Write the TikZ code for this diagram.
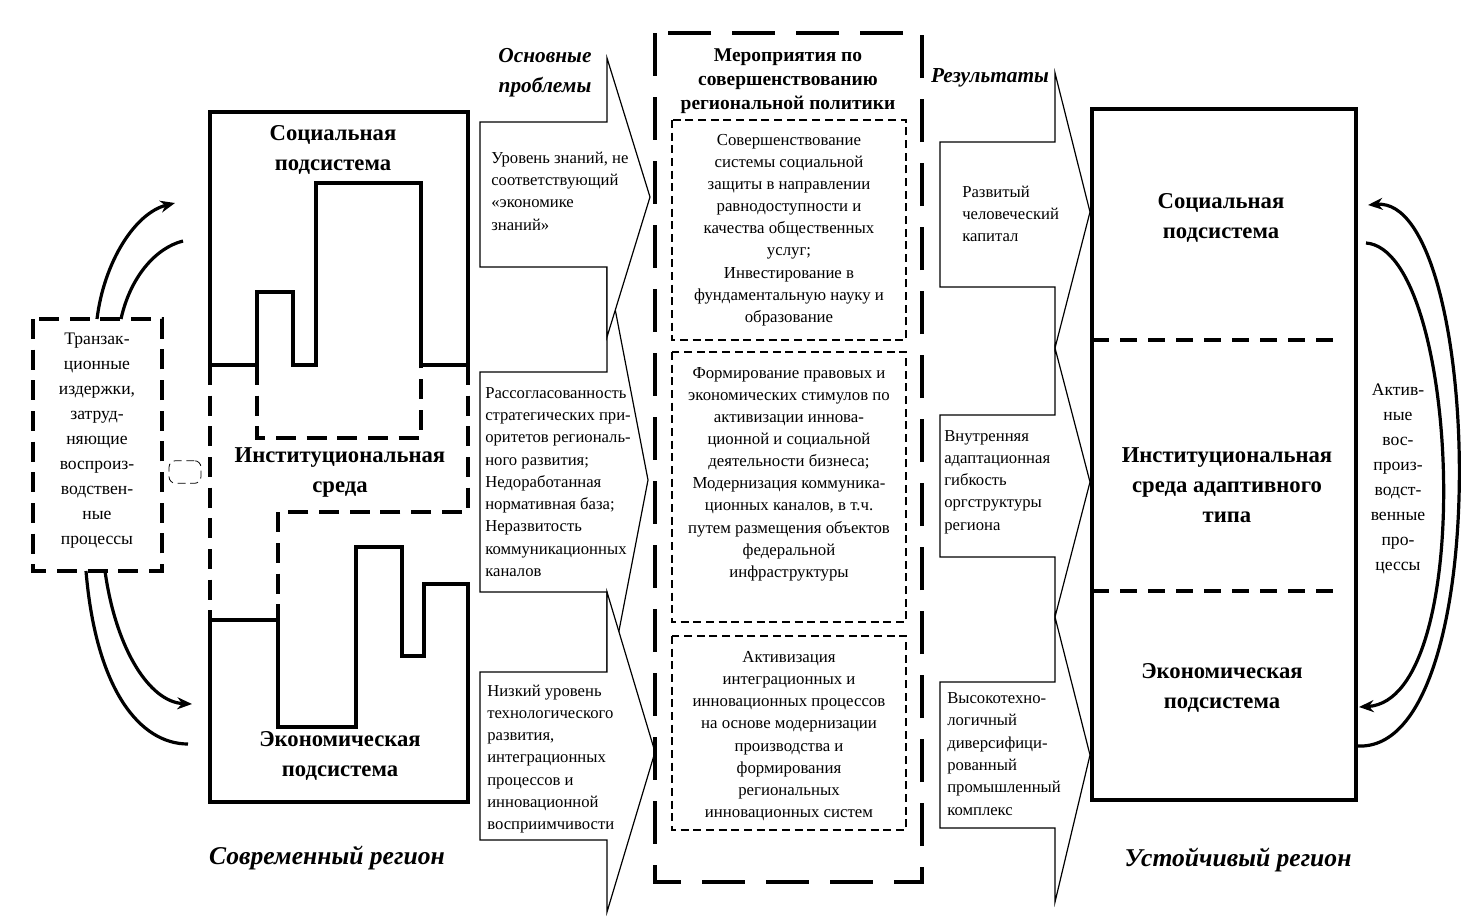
\documentclass[tikz,border=0pt]{standalone}
\usepackage{fontspec}
\setmainfont{Liberation Serif}
\usetikzlibrary{arrows.meta}
\begin{document}
\begin{tikzpicture}[x=0.75pt,y=-0.75pt,
  solidline/.style={line width=2.6pt, line join=miter},
  dashline/.style={line width=2.6pt, dash pattern=on 15pt off 8pt},
  sepdash/.style={line width=2.8pt, dash pattern=on 13pt off 8pt},
  bigdash/.style={line width=3pt, dash pattern=on 32pt off 16pt},
  thindash/.style={line width=0.9pt, dash pattern=on 6pt off 3.5pt},
  callout/.style={line width=0.9pt, fill=white, line join=miter},
  curvearrow/.style={line width=2.4pt, -{Stealth[length=11pt,width=9pt]}},
  curveplain/.style={line width=2.4pt},
  title/.style={font=\bfseries\fontsize{17}{22.5}\selectfont, align=center, inner sep=0pt},
  midtitle/.style={font=\bfseries\fontsize{14.6}{18}\selectfont, align=center, inner sep=0pt},
  italtitle/.style={font=\bfseries\itshape\fontsize{16}{22.5}\selectfont, align=center, inner sep=0pt},
  regionlabel/.style={font=\bfseries\itshape\fontsize{19.2}{22}\selectfont, inner sep=0pt},
  leftext/.style={font=\fontsize{12.5}{16.7}\selectfont, align=left, anchor=west, inner sep=0pt},
  centext/.style={font=\fontsize{12.6}{16.6}\selectfont, align=center, inner sep=0pt},
  sidetext/.style={font=\fontsize{13.2}{18.75}\selectfont, align=center, inner sep=0pt}
]
\useasboundingbox (0,0) rectangle (1484,918);

% ---------- Left region (current region) ----------
\draw[solidline] (210,365) -- (210,112) -- (468,112) -- (468,365) -- (421,365) -- (421,183)
  -- (316,183) -- (316,365) -- (293,365) -- (293,292) -- (257,292) -- (257,365) -- cycle;
\draw[dashline] (257,365) -- (257,438) -- (421,438) -- (421,365);
\draw[dashline] (210,365) -- (210,620);
\draw[dashline] (468,365) -- (468,512) -- (278,512) -- (278,620);
\draw[solidline] (210,620) -- (278,620) -- (278,727) -- (356,727) -- (356,547) -- (402,547)
  -- (402,656) -- (424,656) -- (424,584) -- (468,584) -- (468,802) -- (210,802) -- cycle;

\node[title] (soc1) at (333,150) {Социальная\\подсистема};
\node[title] (inst1) at (340,472) {Институциональная\\среда};
\node[title] (eco1) at (340,756) {Экономическая\\подсистема};
\node[regionlabel] (cur) at (327,858) {Современный регион};

% left dashed box
\draw[dashline] (33,319) rectangle (162,571);
\node[sidetext] (trans) at (97,441) {Транзак-\\ционные\\издержки,\\затруд-\\няющие\\воспроиз-\\водствен-\\ные\\процессы};
\node[draw, thindash, line width=0.6pt, rounded corners=5pt, minimum width=24pt, minimum height=17pt, inner sep=0pt] (link) at (185,472) {};

% left curved arrows
\coordinate (la1) at (97,319);   \coordinate (lb1) at (175,203);
\coordinate (la2) at (121,319);  \coordinate (lb2) at (183,241);
\coordinate (la3) at (86,571);   \coordinate (lb3) at (188,744);
\coordinate (la4) at (105,571);  \coordinate (lb4) at (192,704);
\draw[curvearrow] (la1) .. controls (104,262) and (135,213) .. (lb1);
\draw[curveplain] (la2) .. controls (130,278) and (155,248) .. (lb2);
\draw[curveplain] (la3) .. controls (96,690) and (140,744) .. (lb3);
\draw[curvearrow] (la4) .. controls (116,650) and (150,702) .. (lb4);

% ---------- Problems ----------
\node[italtitle] (osn) at (545,73) {Основные\\проблемы};
\draw[callout] (607,267) -- (607,372) -- (480,372) -- (480,592) -- (607,592) -- (607,693) -- (648,480) -- cycle;
\draw[callout] (607,58) -- (607,122) -- (480,122) -- (480,267) -- (607,267) -- (607,337) -- (650,197) -- cycle;
\draw[callout] (607,592) -- (607,672) -- (480,672) -- (480,840) -- (607,840) -- (607,912) -- (655,752) -- cycle;
\node[leftext] (p1) at (491,191) {Уровень знаний, не\\соответствующий\\«экономике\\знаний»};
\node[leftext] (p2) at (485,482) {Рассогласованность\\стратегических при-\\оритетов региональ-\\ного развития;\\Недоработанная\\нормативная база;\\Неразвитость\\коммуникационных\\каналов};
\node[leftext] (p3) at (487,759) {Низкий уровень\\технологического\\развития,\\интеграционных\\процессов и\\инновационной\\восприимчивости};

% ---------- Measures ----------
\draw[bigdash] (655,33) rectangle (922,882);
\node[midtitle] (mer) at (788,81) {Мероприятия по\\совершенствованию\\региональной политики};
\draw[thindash] (672,120) rectangle (906,340);
\draw[thindash] (672,352) rectangle (906,622);
\draw[thindash] (672,636) rectangle (906,830);
\node[centext] (m1) at (789,230) {Совершенствование\\системы социальной\\защиты в направлении\\равнодоступности и\\качества общественных\\услуг;\\Инвестирование в\\фундаментальную науку и\\образование};
\node[centext] (m2) at (789,474) {Формирование правовых и\\экономических стимулов по\\активизации иннова-\\ционной и социальной\\деятельности бизнеса;\\Модернизация коммуника-\\ционных каналов, в т.ч.\\путем размещения объектов\\федеральной\\инфраструктуры};
\node[centext] (m3) at (789,736) {Активизация\\интеграционных и\\инновационных процессов\\на основе модернизации\\производства и\\формирования\\региональных\\инновационных систем};

% ---------- Results ----------
\node[italtitle] (res) at (990,78) {Результаты};
\draw[callout] (1055,73) -- (1055,142) -- (940,142) -- (940,287) -- (1055,287) -- (1055,348) -- (1090,212) -- cycle;
\draw[callout] (1055,348) -- (1055,415) -- (940,415) -- (940,557) -- (1055,557) -- (1055,617) -- (1090,482) -- cycle;
\draw[callout] (1055,617) -- (1055,682) -- (940,682) -- (940,828) -- (1055,828) -- (1055,902) -- (1090,755) -- cycle;
\node[leftext] (r1) at (962,214) {Развитый\\человеческий\\капитал};
\node[leftext] (r2) at (944,482) {Внутренняя\\адаптационная\\гибкость\\оргструктуры\\региона};
\node[leftext] (r3) at (947,754) {Высокотехно-\\логичный\\диверсифици-\\рованный\\промышленный\\комплекс};

% ---------- Right region ----------
\draw[solidline] (1092,109) rectangle (1356,800);
\draw[sepdash] (1092,340) -- (1343,340);
\draw[sepdash] (1092,591) -- (1343,591);
\node[title] (soc2) at (1221,218) {Социальная\\подсистема};
\node[title] (inst2) at (1227,485) {Институциональная\\среда адаптивного\\типа};
\node[title] (eco2) at (1222,688) {Экономическая\\подсистема};
\node[regionlabel] (sust) at (1238,860) {Устойчивый регион};
\node[sidetext] (act) at (1398,479) {Актив-\\ные\\вос-\\произ-\\водст-\\венные\\про-\\цессы};

\coordinate (ra1) at (1366,243);  \coordinate (rb1) at (1359,707);
\coordinate (ra2) at (1358,746);  \coordinate (rb2) at (1368,205);
\draw[curvearrow] (ra1) .. controls (1460,250) and (1478,700) .. (rb1);
\draw[curvearrow] (ra2) .. controls (1498,752) and (1482,196) .. (rb2);
\end{tikzpicture}
\end{document}
